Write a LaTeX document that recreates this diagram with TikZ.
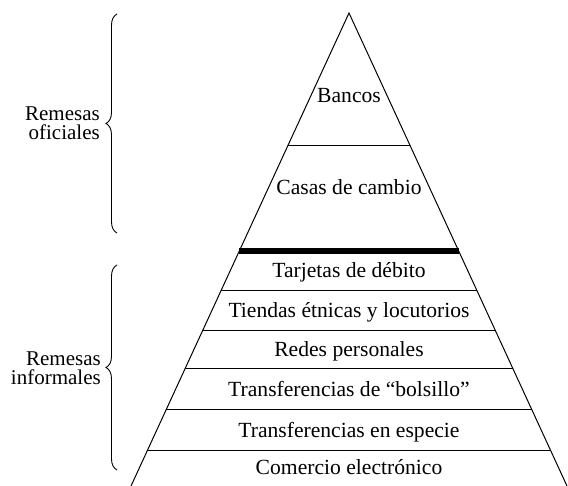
\documentclass[tikz,border=0pt]{standalone}
\usepackage{fontspec}
\setmainfont{Liberation Serif}
\usetikzlibrary{calc,decorations.pathreplacing}
\begin{document}
\begin{tikzpicture}[x=1pt,y=-1pt,
  lbl/.style={font=\fontsize{21.6}{24}\selectfont, inner sep=0pt, anchor=base},
  side/.style={font=\fontsize{21}{19}\selectfont, inner sep=0pt, align=right, anchor=east},
  edge/.style={line width=1pt},
  bracestyle/.style={line width=0.9pt, decorate, decoration={brace, amplitude=11pt}}]
\useasboundingbox (0,0) rectangle (568,486);
\coordinate (A) at (349,13);
\coordinate (L) at (131,486);
\coordinate (R) at (567,486);
\draw[edge] (L) -- (A) -- (R);
\foreach \t/\n in {0.2791/a,0.5877/c,0.6723/d,0.7526/e,0.8393/f,0.9239/g}{
  \coordinate (l\n) at ($(A)!\t!(L)$);
  \coordinate (r\n) at ($(A)!\t!(R)$);
  \draw[edge] (l\n) -- (r\n);
}
\coordinate (lb) at ($(A)!0.5032!(L)$);
\coordinate (rb) at ($(A)!0.5032!(R)$);
\draw[line width=6pt] (lb) -- (rb);
\node[lbl] (t1) at (349,103) {Bancos};
\node[lbl] (t2) at (349,195) {Casas de cambio};
\node[lbl] (t3) at (349,278) {Tarjetas de débito};
\node[lbl] (t4) at (349,318) {Tiendas étnicas y locutorios};
\node[lbl] (t5) at (349,357) {Redes personales};
\node[lbl] (t6) at (349,397) {Transferencias de “bolsillo”};
\node[lbl] (t7) at (349,437) {Transferencias en especie};
\node[lbl] (t8) at (349,475) {Comercio electrónico};
\coordinate (b1t) at (117,14);
\coordinate (b1b) at (117,233);
\coordinate (b2t) at (117,265);
\coordinate (b2b) at (117,470);
\draw[bracestyle] (b1b) -- (b1t);
\draw[bracestyle] (b2b) -- (b2t);
\node[side] (s1) at (100,123) {Remesas\\oficiales};
\node[side] (s2) at (101,368) {Remesas\\informales};
\end{tikzpicture}
\end{document}
